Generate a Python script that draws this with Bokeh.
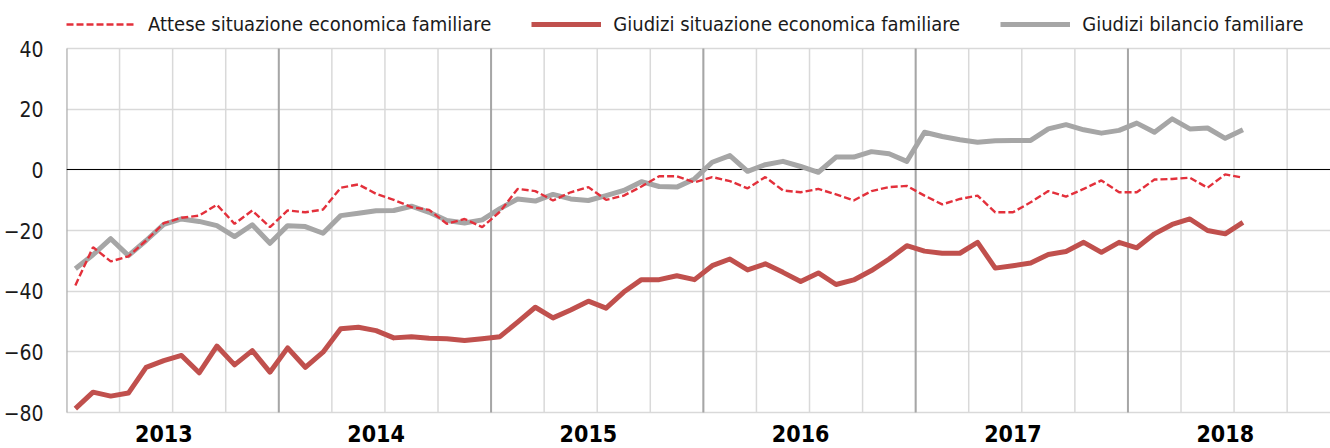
from bokeh.plotting import figure
from bokeh.models import (Range1d, FixedTicker, Legend, LegendItem, ColumnDataSource)
from bokeh.core.properties import value
from bokeh.embed import file_html
from bokeh.resources import INLINE

FONT = "DejaVu Sans Condensed"

# Monthly data, Jan 2013 .. Jul 2018 (month index 0 = Jan 2013)
attese = [-38.1, -25.5, -30.2, -28.5, -23.3, -17.6, -15.8, -15.1, -11.5, -17.8, -13.4, -18.9,
          -13.4, -14.0, -13.1, -5.9, -4.8, -7.9, -9.9, -12.3, -13.2, -17.8, -16.2, -18.9,
          -13.8, -6.3, -7.0, -10.1, -7.4, -5.7, -9.9, -8.5, -5.5, -2.1, -2.1, -4.1,
          -2.4, -3.7, -6.1, -2.4, -6.8, -7.4, -6.3, -8.1, -10.1, -7.0, -5.7, -5.3,
          -8.5, -11.4, -9.6, -8.5, -14.0, -14.0, -10.7, -7.0, -8.8, -6.3, -3.5, -7.4,
          -7.4, -3.2, -3.0, -2.6, -5.9, -1.5, -2.6]

giudizi_sit = [-78.7, -73.3, -74.6, -73.6, -65.1, -62.9, -61.2, -66.9, -58.1, -64.3, -59.6, -66.7,
               -58.7, -65.1, -60.1, -52.4, -51.9, -53.0, -55.4, -55.0, -55.5, -55.7, -56.3, -55.7,
               -55.0, -50.2, -45.3, -48.8, -46.2, -43.3, -45.6, -40.3, -36.2, -36.2, -34.9, -36.2,
               -31.6, -29.4, -33.0, -31.0, -33.8, -36.8, -34.0, -37.8, -36.3, -33.2, -29.4, -25.0,
               -26.8, -27.5, -27.5, -23.9, -32.4, -31.6, -30.7, -27.9, -26.9, -23.9, -27.2, -23.9,
               -25.7, -21.1, -18.0, -16.2, -20.0, -21.1, -17.3]

giudizi_bil = [-32.6, -28.0, -22.7, -28.3, -23.3, -18.0, -16.2, -17.0, -18.4, -22.0, -18.1, -24.2,
               -18.4, -18.7, -20.9, -15.1, -14.3, -13.5, -13.4, -12.0, -14.0, -16.7, -17.5, -16.5,
               -12.8, -9.6, -10.3, -8.1, -9.6, -10.1, -8.5, -6.8, -3.9, -5.5, -5.7, -3.0,
               2.5, 4.7, -0.5, 1.7, 2.8, 1.1, -0.8, 4.2, 4.2, 6.0, 5.3, 2.8,
               12.4, 11.0, 9.9, 9.1, 9.6, 9.7, 9.7, 13.5, 14.9, 13.2, 12.1, 13.0,
               15.4, 12.4, 16.8, 13.5, 13.8, 10.4, 13.2]

years = ["2013", "2014", "2015", "2016", "2017", "2018"]
y_ticks = [-80, -60, -40, -20, 0, 20, 40]

months = [i + 0.5 for i in range(len(attese))]
quarter_ticks = list(range(0, 72, 3))
year_ticks = [12 * k for k in range(len(years))]
year_label_x = [12 * k + 5.5 for k in range(len(years))]

Y_MIN, Y_MAX = y_ticks[0], y_ticks[-1]
# 364 px of plot height for the -80..40 span; extra room above (legend) and below (years)
PX_PER_UNIT = 364 / (Y_MAX - Y_MIN)
y_range = Range1d(Y_MIN - 36 / PX_PER_UNIT, Y_MAX + 48 / PX_PER_UNIT)

src = ColumnDataSource(dict(x=months, attese=attese, sit=giudizi_sit, bil=giudizi_bil))

p = figure(width=1330, height=448, output_backend="svg", toolbar_location=None,
           x_range=Range1d(0, 71.45), y_range=y_range,
           min_border_left=66, min_border_right=0, min_border_top=0, min_border_bottom=0)
p.outline_line_color = None
p.background_fill_color = "white"
p.xaxis.visible = False
p.xgrid.visible = False

# horizontal grid
p.ygrid.ticker = FixedTicker(ticks=y_ticks)
p.ygrid.grid_line_color = "#D9D9D9"
p.ygrid.grid_line_width = 1.5

# vertical grid (quarters light, years darker), limited to the -80..40 band
p.segment(x0=quarter_ticks, y0=[Y_MIN] * len(quarter_ticks),
          x1=quarter_ticks, y1=[Y_MAX] * len(quarter_ticks),
          line_color="#D9D9D9", line_width=1.5)
p.segment(x0=year_ticks, y0=[Y_MIN] * len(year_ticks),
          x1=year_ticks, y1=[Y_MAX] * len(year_ticks),
          line_color="#A6A6A6", line_width=2)
p.hspan(y=[0], line_color="black", line_width=1.2)

# y axis
p.yaxis.ticker = FixedTicker(ticks=y_ticks)
p.yaxis.axis_line_color = None
p.yaxis.major_tick_line_color = None
p.yaxis.minor_tick_line_color = None
p.yaxis.major_tick_out = 0
p.yaxis.major_label_standoff = 23
p.yaxis.major_label_text_font = FONT
p.yaxis.major_label_text_font_size = "21px"
p.yaxis.major_label_text_color = "#1a1a1a"

# year labels under the plot band
p.text(x=year_label_x, y=[Y_MIN] * len(years), text=years, y_offset=21,
       text_align="center", text_baseline="alphabetic",
       text_font=value(FONT), text_font_size="23px", text_font_style="bold",
       text_color="black")

# lines
r_sit = p.line("x", "sit", source=src, line_color="#C0504D", line_width=5, line_join="round")
r_bil = p.line("x", "bil", source=src, line_color="#A6A6A6", line_width=5, line_join="round")
r_att = p.line("x", "attese", source=src, line_color="#E3303B", line_width=2.4,
               line_dash="7 3")

legend = Legend(items=[LegendItem(label="Attese situazione economica familiare", renderers=[r_att]),
                       LegendItem(label="Giudizi situazione economica familiare", renderers=[r_sit]),
                       LegendItem(label="Giudizi bilancio familiare", renderers=[r_bil])],
                location=(0, 409), orientation="horizontal",
                glyph_width=70, glyph_height=30, label_height=30,
                label_standoff=12, spacing=40, padding=0, margin=0,
                border_line_color=None, background_fill_alpha=0,
                label_text_font=FONT, label_text_font_size="20px",
                label_text_color="#1a1a1a")
p.add_layout(legend)

open("out.html", "w").write(file_html(p, INLINE))
